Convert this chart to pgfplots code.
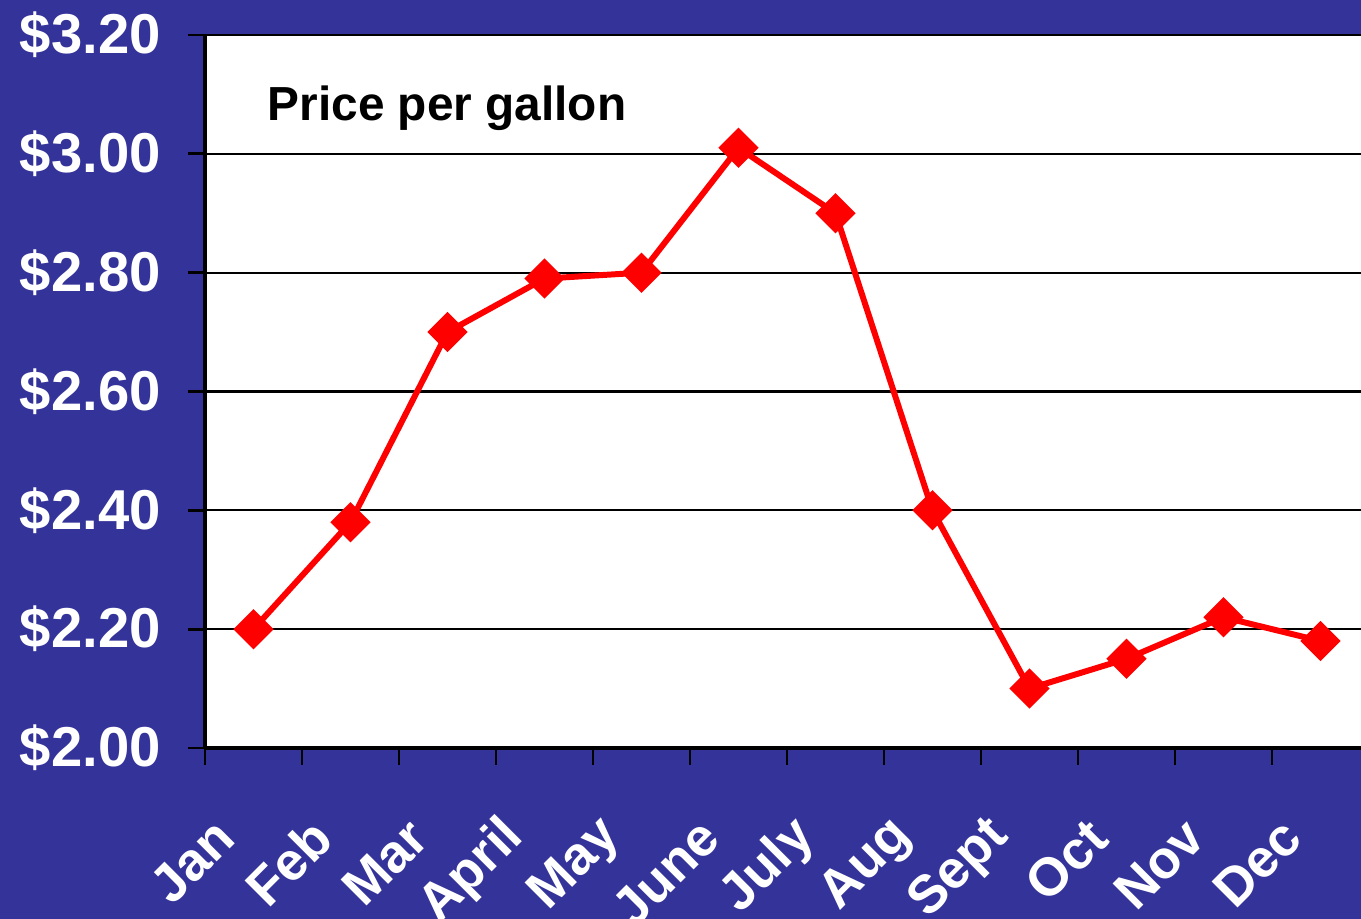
\documentclass[border=0pt]{standalone}
\usepackage{fontspec}
\setmainfont{Liberation Sans}
\usepackage{pgfplots}
\pgfplotsset{compat=1.18}
\definecolor{fond}{HTML}{333399}
\definecolor{rouge}{HTML}{FF0000}

\begin{document}
\begin{tikzpicture}
\fill[fond] (0,0) rectangle (13.61,9.19);
\begin{axis}[at={(2.05cm,1.71cm)}, anchor=south west, scale only axis,
  width=11.56cm, height=7.13cm,
  xmin=-0.5, xmax=11.4175, ymin=2, ymax=3.2,
  axis background/.style={fill=white},
  axis lines=left, axis line style={-, line width=1pt},
  tick align=outside, major tick length=0.17cm, minor tick length=0.17cm,
  tick style={black, line width=0.8pt},
  xtick={0,...,11}, major x tick style={draw=none},
  minor xtick={-0.5,0.5,...,10.5},
  xticklabels={Jan,Feb,Mar,April,May,June,July,Aug,Sept,Oct,Nov,Dec},
  xticklabel style={font=\fontsize{15.2}{18}\selectfont\bfseries, text=white,
    anchor=east, xshift=-0.2cm, yshift=-0.55cm, rotate=45},
  ytick={2,2.2,2.4,2.6,2.8,3,3.2},
  yticklabels={\$2.00,\$2.20,\$2.40,\$2.60,\$2.80,\$3.00,\$3.20},
  yticklabel style={font=\fontsize{16}{19}\selectfont\bfseries, text=white, xshift=-0.15cm},
  ymajorgrids, grid style={black, line width=0.6pt},
  clip=false,
]
\addplot[rouge, line width=1.7pt, mark=square*, mark size=3.2pt,
  mark options={rotate=45, solid}] coordinates {
  (0,2.20) (1,2.38) (2,2.70) (3,2.79) (4,2.80) (5,3.01)
  (6,2.90) (7,2.40) (8,2.10) (9,2.15) (10,2.22) (11,2.18)};
\node[anchor=west, font=\fontsize{13.6}{16}\selectfont\bfseries]
  at (rel axis cs:0.0435,0.897) {Price per gallon};
\end{axis}
\pgfresetboundingbox
\path (0,0) rectangle (13.61,9.19);
\end{tikzpicture}
\end{document}
